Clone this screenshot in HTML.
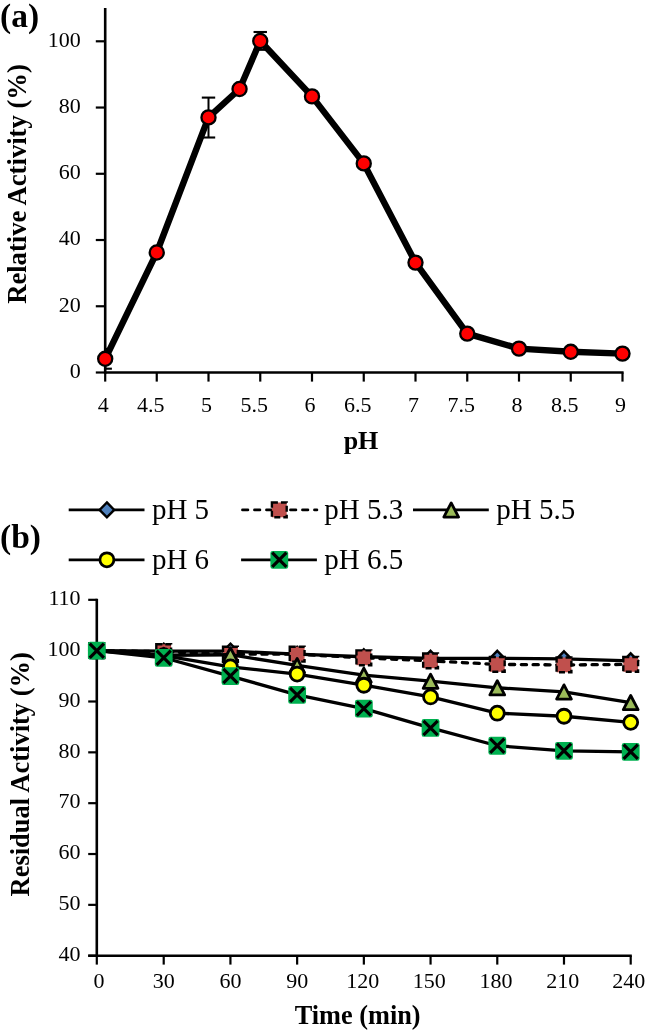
<!DOCTYPE html>
<html><head><meta charset="utf-8"><style>
html,body{margin:0;padding:0;background:#fff;}
body{width:646px;height:1033px;overflow:hidden;}
svg{display:block;}
</style></head><body>
<svg width="646" height="1033" viewBox="0 0 646 1033">
<rect width="646" height="1033" fill="#fff"/>
<line x1="105.2" y1="8.0" x2="105.2" y2="373.7" stroke="#000" stroke-width="2.6"/>
<line x1="95.8" y1="372.50" x2="105.2" y2="372.50" stroke="#000" stroke-width="2.2"/>
<line x1="95.8" y1="306.26" x2="105.2" y2="306.26" stroke="#000" stroke-width="2.2"/>
<line x1="95.8" y1="240.02" x2="105.2" y2="240.02" stroke="#000" stroke-width="2.2"/>
<line x1="95.8" y1="173.78" x2="105.2" y2="173.78" stroke="#000" stroke-width="2.2"/>
<line x1="95.8" y1="107.54" x2="105.2" y2="107.54" stroke="#000" stroke-width="2.2"/>
<line x1="95.8" y1="41.30" x2="105.2" y2="41.30" stroke="#000" stroke-width="2.2"/>
<line x1="104.0" y1="372.5" x2="623.6" y2="372.5" stroke="#000" stroke-width="2.6"/>
<line x1="105.20" y1="372.5" x2="105.20" y2="381.6" stroke="#000" stroke-width="2.2"/>
<line x1="156.75" y1="372.5" x2="156.75" y2="381.6" stroke="#000" stroke-width="2.2"/>
<line x1="208.50" y1="372.5" x2="208.50" y2="381.6" stroke="#000" stroke-width="2.2"/>
<line x1="260.25" y1="372.5" x2="260.25" y2="381.6" stroke="#000" stroke-width="2.2"/>
<line x1="312.00" y1="372.5" x2="312.00" y2="381.6" stroke="#000" stroke-width="2.2"/>
<line x1="363.75" y1="372.5" x2="363.75" y2="381.6" stroke="#000" stroke-width="2.2"/>
<line x1="415.50" y1="372.5" x2="415.50" y2="381.6" stroke="#000" stroke-width="2.2"/>
<line x1="467.25" y1="372.5" x2="467.25" y2="381.6" stroke="#000" stroke-width="2.2"/>
<line x1="519.00" y1="372.5" x2="519.00" y2="381.6" stroke="#000" stroke-width="2.2"/>
<line x1="570.75" y1="372.5" x2="570.75" y2="381.6" stroke="#000" stroke-width="2.2"/>
<line x1="622.50" y1="372.5" x2="622.50" y2="381.6" stroke="#000" stroke-width="2.2"/>
<polyline fill="none" stroke="#000" stroke-width="6.4" stroke-linejoin="round" points="105.20,358.80 156.75,252.50 208.50,117.40 239.55,89.00 260.25,41.00 312.00,96.40 363.75,163.40 415.50,262.60 467.25,333.60 519.00,348.60 570.75,351.80 622.50,353.60"/>
<line x1="105.20" y1="348.9" x2="105.20" y2="368.7" stroke="#000" stroke-width="2"/>
<line x1="105.20" y1="368.7" x2="111.90" y2="368.7" stroke="#000" stroke-width="2.1"/>
<line x1="105.20" y1="348.9" x2="111.90" y2="348.9" stroke="#000" stroke-width="2.1"/>
<line x1="208.50" y1="97.6" x2="208.50" y2="137.5" stroke="#000" stroke-width="2"/>
<line x1="201.80" y1="137.5" x2="215.20" y2="137.5" stroke="#000" stroke-width="2.1"/>
<line x1="201.80" y1="97.6" x2="215.20" y2="97.6" stroke="#000" stroke-width="2.1"/>
<line x1="260.25" y1="32.0" x2="260.25" y2="49.8" stroke="#000" stroke-width="2"/>
<line x1="253.55" y1="49.8" x2="266.95" y2="49.8" stroke="#000" stroke-width="2.1"/>
<line x1="253.55" y1="32.0" x2="266.95" y2="32.0" stroke="#000" stroke-width="2.1"/>
<circle cx="105.20" cy="358.80" r="7.05" fill="#FF0000" stroke="#000" stroke-width="2.3"/>
<circle cx="156.75" cy="252.50" r="7.05" fill="#FF0000" stroke="#000" stroke-width="2.3"/>
<circle cx="208.50" cy="117.40" r="7.05" fill="#FF0000" stroke="#000" stroke-width="2.3"/>
<circle cx="239.55" cy="89.00" r="7.05" fill="#FF0000" stroke="#000" stroke-width="2.3"/>
<circle cx="260.25" cy="41.00" r="7.05" fill="#FF0000" stroke="#000" stroke-width="2.3"/>
<circle cx="312.00" cy="96.40" r="7.05" fill="#FF0000" stroke="#000" stroke-width="2.3"/>
<circle cx="363.75" cy="163.40" r="7.05" fill="#FF0000" stroke="#000" stroke-width="2.3"/>
<circle cx="415.50" cy="262.60" r="7.05" fill="#FF0000" stroke="#000" stroke-width="2.3"/>
<circle cx="467.25" cy="333.60" r="7.05" fill="#FF0000" stroke="#000" stroke-width="2.3"/>
<circle cx="519.00" cy="348.60" r="7.05" fill="#FF0000" stroke="#000" stroke-width="2.3"/>
<circle cx="570.75" cy="351.80" r="7.05" fill="#FF0000" stroke="#000" stroke-width="2.3"/>
<circle cx="622.50" cy="353.60" r="7.05" fill="#FF0000" stroke="#000" stroke-width="2.3"/>
<line x1="96.8" y1="598.72" x2="96.8" y2="955.7" stroke="#000" stroke-width="2.6"/>
<line x1="88.2" y1="955.70" x2="96.8" y2="955.70" stroke="#000" stroke-width="2.2"/>
<line x1="88.2" y1="904.86" x2="96.8" y2="904.86" stroke="#000" stroke-width="2.2"/>
<line x1="88.2" y1="854.02" x2="96.8" y2="854.02" stroke="#000" stroke-width="2.2"/>
<line x1="88.2" y1="803.18" x2="96.8" y2="803.18" stroke="#000" stroke-width="2.2"/>
<line x1="88.2" y1="752.34" x2="96.8" y2="752.34" stroke="#000" stroke-width="2.2"/>
<line x1="88.2" y1="701.50" x2="96.8" y2="701.50" stroke="#000" stroke-width="2.2"/>
<line x1="88.2" y1="650.66" x2="96.8" y2="650.66" stroke="#000" stroke-width="2.2"/>
<line x1="88.2" y1="599.82" x2="96.8" y2="599.82" stroke="#000" stroke-width="2.2"/>
<line x1="88.2" y1="955.7" x2="631.80" y2="955.7" stroke="#000" stroke-width="2.6"/>
<line x1="96.80" y1="955.7" x2="96.80" y2="964.6" stroke="#000" stroke-width="2.2"/>
<line x1="163.71" y1="955.7" x2="163.71" y2="964.6" stroke="#000" stroke-width="2.2"/>
<line x1="230.43" y1="955.7" x2="230.43" y2="964.6" stroke="#000" stroke-width="2.2"/>
<line x1="297.14" y1="955.7" x2="297.14" y2="964.6" stroke="#000" stroke-width="2.2"/>
<line x1="363.85" y1="955.7" x2="363.85" y2="964.6" stroke="#000" stroke-width="2.2"/>
<line x1="430.56" y1="955.7" x2="430.56" y2="964.6" stroke="#000" stroke-width="2.2"/>
<line x1="497.28" y1="955.7" x2="497.28" y2="964.6" stroke="#000" stroke-width="2.2"/>
<line x1="563.99" y1="955.7" x2="563.99" y2="964.6" stroke="#000" stroke-width="2.2"/>
<line x1="630.70" y1="955.7" x2="630.70" y2="964.6" stroke="#000" stroke-width="2.2"/>
<polyline fill="none" stroke="#000" stroke-width="3.3" stroke-linejoin="round" points="96.80,650.66 163.71,651.17 230.43,651.17 297.14,654.22 363.85,656.76 430.56,658.29 497.28,658.29 563.99,658.79 630.70,660.83"/>
<path d="M96.80,643.16 L104.10,650.66 L96.80,658.16 L89.50,650.66 Z" fill="#4F81BD" stroke="#000" stroke-width="2.4" stroke-linejoin="miter"/>
<path d="M163.71,643.67 L171.01,651.17 L163.71,658.67 L156.41,651.17 Z" fill="#4F81BD" stroke="#000" stroke-width="2.4" stroke-linejoin="miter"/>
<path d="M230.43,643.67 L237.73,651.17 L230.43,658.67 L223.12,651.17 Z" fill="#4F81BD" stroke="#000" stroke-width="2.4" stroke-linejoin="miter"/>
<path d="M297.14,646.72 L304.44,654.22 L297.14,661.72 L289.84,654.22 Z" fill="#4F81BD" stroke="#000" stroke-width="2.4" stroke-linejoin="miter"/>
<path d="M363.85,649.26 L371.15,656.76 L363.85,664.26 L356.55,656.76 Z" fill="#4F81BD" stroke="#000" stroke-width="2.4" stroke-linejoin="miter"/>
<path d="M430.56,650.79 L437.86,658.29 L430.56,665.79 L423.26,658.29 Z" fill="#4F81BD" stroke="#000" stroke-width="2.4" stroke-linejoin="miter"/>
<path d="M497.28,650.79 L504.58,658.29 L497.28,665.79 L489.98,658.29 Z" fill="#4F81BD" stroke="#000" stroke-width="2.4" stroke-linejoin="miter"/>
<path d="M563.99,651.29 L571.29,658.79 L563.99,666.29 L556.69,658.79 Z" fill="#4F81BD" stroke="#000" stroke-width="2.4" stroke-linejoin="miter"/>
<path d="M630.70,653.33 L638.00,660.83 L630.70,668.33 L623.40,660.83 Z" fill="#4F81BD" stroke="#000" stroke-width="2.4" stroke-linejoin="miter"/>
<polyline fill="none" stroke="#000" stroke-width="3.3" stroke-linejoin="round" stroke-dasharray="5.2 6.6" stroke-linecap="round" points="96.80,650.66 163.71,651.68 230.43,654.22 297.14,654.22 363.85,657.78 430.56,660.83 497.28,664.39 563.99,664.90 630.70,664.39"/>
<rect x="89.40" y="643.26" width="14.8" height="14.8" fill="#C0504D" stroke="#000" stroke-width="2.4" stroke-dasharray="6 3"/>
<rect x="156.31" y="644.28" width="14.8" height="14.8" fill="#C0504D" stroke="#000" stroke-width="2.4" stroke-dasharray="6 3"/>
<rect x="223.03" y="646.82" width="14.8" height="14.8" fill="#C0504D" stroke="#000" stroke-width="2.4" stroke-dasharray="6 3"/>
<rect x="289.74" y="646.82" width="14.8" height="14.8" fill="#C0504D" stroke="#000" stroke-width="2.4" stroke-dasharray="6 3"/>
<rect x="356.45" y="650.38" width="14.8" height="14.8" fill="#C0504D" stroke="#000" stroke-width="2.4" stroke-dasharray="6 3"/>
<rect x="423.16" y="653.43" width="14.8" height="14.8" fill="#C0504D" stroke="#000" stroke-width="2.4" stroke-dasharray="6 3"/>
<rect x="489.88" y="656.99" width="14.8" height="14.8" fill="#C0504D" stroke="#000" stroke-width="2.4" stroke-dasharray="6 3"/>
<rect x="556.59" y="657.50" width="14.8" height="14.8" fill="#C0504D" stroke="#000" stroke-width="2.4" stroke-dasharray="6 3"/>
<rect x="623.30" y="656.99" width="14.8" height="14.8" fill="#C0504D" stroke="#000" stroke-width="2.4" stroke-dasharray="6 3"/>
<polyline fill="none" stroke="#000" stroke-width="3.3" stroke-linejoin="round" points="96.80,650.66 163.71,655.24 230.43,654.73 297.14,665.40 363.85,675.06 430.56,681.16 497.28,687.77 563.99,691.84 630.70,702.52"/>
<path d="M96.80,643.66 L104.20,657.86 L89.40,657.86 Z" fill="#9BBB59" stroke="#000" stroke-width="2.8" stroke-linejoin="round"/>
<path d="M163.71,648.24 L171.11,662.44 L156.31,662.44 Z" fill="#9BBB59" stroke="#000" stroke-width="2.8" stroke-linejoin="round"/>
<path d="M230.43,647.73 L237.83,661.93 L223.03,661.93 Z" fill="#9BBB59" stroke="#000" stroke-width="2.8" stroke-linejoin="round"/>
<path d="M297.14,658.40 L304.54,672.60 L289.74,672.60 Z" fill="#9BBB59" stroke="#000" stroke-width="2.8" stroke-linejoin="round"/>
<path d="M363.85,668.06 L371.25,682.26 L356.45,682.26 Z" fill="#9BBB59" stroke="#000" stroke-width="2.8" stroke-linejoin="round"/>
<path d="M430.56,674.16 L437.96,688.36 L423.16,688.36 Z" fill="#9BBB59" stroke="#000" stroke-width="2.8" stroke-linejoin="round"/>
<path d="M497.28,680.77 L504.68,694.97 L489.88,694.97 Z" fill="#9BBB59" stroke="#000" stroke-width="2.8" stroke-linejoin="round"/>
<path d="M563.99,684.84 L571.39,699.04 L556.59,699.04 Z" fill="#9BBB59" stroke="#000" stroke-width="2.8" stroke-linejoin="round"/>
<path d="M630.70,695.52 L638.10,709.72 L623.30,709.72 Z" fill="#9BBB59" stroke="#000" stroke-width="2.8" stroke-linejoin="round"/>
<polyline fill="none" stroke="#000" stroke-width="3.3" stroke-linejoin="round" points="96.80,650.66 163.71,655.74 230.43,666.93 297.14,674.05 363.85,685.23 430.56,696.92 497.28,713.19 563.99,716.24 630.70,722.34"/>
<circle cx="96.80" cy="650.66" r="7.0" fill="#FFFF00" stroke="#000" stroke-width="2.8"/>
<circle cx="163.71" cy="655.74" r="7.0" fill="#FFFF00" stroke="#000" stroke-width="2.8"/>
<circle cx="230.43" cy="666.93" r="7.0" fill="#FFFF00" stroke="#000" stroke-width="2.8"/>
<circle cx="297.14" cy="674.05" r="7.0" fill="#FFFF00" stroke="#000" stroke-width="2.8"/>
<circle cx="363.85" cy="685.23" r="7.0" fill="#FFFF00" stroke="#000" stroke-width="2.8"/>
<circle cx="430.56" cy="696.92" r="7.0" fill="#FFFF00" stroke="#000" stroke-width="2.8"/>
<circle cx="497.28" cy="713.19" r="7.0" fill="#FFFF00" stroke="#000" stroke-width="2.8"/>
<circle cx="563.99" cy="716.24" r="7.0" fill="#FFFF00" stroke="#000" stroke-width="2.8"/>
<circle cx="630.70" cy="722.34" r="7.0" fill="#FFFF00" stroke="#000" stroke-width="2.8"/>
<polyline fill="none" stroke="#000" stroke-width="3.3" stroke-linejoin="round" points="96.80,650.66 163.71,657.78 230.43,676.08 297.14,694.89 363.85,708.62 430.56,727.94 497.28,745.73 563.99,750.81 630.70,751.83"/>
<rect x="87.90" y="641.76" width="17.8" height="17.8" rx="2.2" fill="#00B050"/><path d="M89.70,643.56 L103.90,657.76 M103.90,643.56 L89.70,657.76" stroke="#000" stroke-width="3.2"/>
<rect x="154.81" y="648.88" width="17.8" height="17.8" rx="2.2" fill="#00B050"/><path d="M156.61,650.68 L170.81,664.88 M170.81,650.68 L156.61,664.88" stroke="#000" stroke-width="3.2"/>
<rect x="221.53" y="667.18" width="17.8" height="17.8" rx="2.2" fill="#00B050"/><path d="M223.33,668.98 L237.53,683.18 M237.53,668.98 L223.33,683.18" stroke="#000" stroke-width="3.2"/>
<rect x="288.24" y="685.99" width="17.8" height="17.8" rx="2.2" fill="#00B050"/><path d="M290.04,687.79 L304.24,701.99 M304.24,687.79 L290.04,701.99" stroke="#000" stroke-width="3.2"/>
<rect x="354.95" y="699.72" width="17.8" height="17.8" rx="2.2" fill="#00B050"/><path d="M356.75,701.52 L370.95,715.72 M370.95,701.52 L356.75,715.72" stroke="#000" stroke-width="3.2"/>
<rect x="421.66" y="719.04" width="17.8" height="17.8" rx="2.2" fill="#00B050"/><path d="M423.46,720.84 L437.66,735.04 M437.66,720.84 L423.46,735.04" stroke="#000" stroke-width="3.2"/>
<rect x="488.38" y="736.83" width="17.8" height="17.8" rx="2.2" fill="#00B050"/><path d="M490.18,738.63 L504.38,752.83 M504.38,738.63 L490.18,752.83" stroke="#000" stroke-width="3.2"/>
<rect x="555.09" y="741.91" width="17.8" height="17.8" rx="2.2" fill="#00B050"/><path d="M556.89,743.71 L571.09,757.91 M571.09,743.71 L556.89,757.91" stroke="#000" stroke-width="3.2"/>
<rect x="621.80" y="742.93" width="17.8" height="17.8" rx="2.2" fill="#00B050"/><path d="M623.60,744.73 L637.80,758.93 M637.80,744.73 L623.60,758.93" stroke="#000" stroke-width="3.2"/>
<line x1="68.7" y1="509.9" x2="144.50" y2="509.9" stroke="#000" stroke-width="2.8"/>
<path d="M106.90,502.40 L114.20,509.90 L106.90,517.40 L99.60,509.90 Z" fill="#4F81BD" stroke="#000" stroke-width="2.4" stroke-linejoin="miter"/>
<line x1="242.5" y1="509.9" x2="316.90" y2="509.9" stroke="#000" stroke-width="2.8" stroke-dasharray="5.4 6.6" stroke-linecap="round"/>
<rect x="271.90" y="502.50" width="14.8" height="14.8" fill="#C0504D" stroke="#000" stroke-width="2.4" stroke-dasharray="6 3"/>
<line x1="413.0" y1="509.9" x2="488.80" y2="509.9" stroke="#000" stroke-width="2.8"/>
<path d="M451.20,502.90 L458.60,517.10 L443.80,517.10 Z" fill="#9BBB59" stroke="#000" stroke-width="2.8" stroke-linejoin="round"/>
<line x1="68.7" y1="559.8" x2="144.50" y2="559.8" stroke="#000" stroke-width="2.8"/>
<circle cx="106.90" cy="559.80" r="7.0" fill="#FFFF00" stroke="#000" stroke-width="2.8"/>
<line x1="241.1" y1="559.8" x2="316.90" y2="559.8" stroke="#000" stroke-width="2.8"/>
<rect x="270.40" y="550.90" width="17.8" height="17.8" rx="2.2" fill="#00B050"/><path d="M272.20,552.70 L286.40,566.90 M286.40,552.70 L272.20,566.90" stroke="#000" stroke-width="3.2"/>
<g style="filter:grayscale(1)">
<text x="0" y="26.8" style="font-family:'Liberation Serif',serif;font-weight:bold;font-size:33.5px">(a)</text>
<text x="80.8" y="377.90" text-anchor="end" style="font-family:'Liberation Serif',serif;font-size:22px">0</text>
<text x="80.8" y="311.66" text-anchor="end" style="font-family:'Liberation Serif',serif;font-size:22px">20</text>
<text x="80.8" y="245.42" text-anchor="end" style="font-family:'Liberation Serif',serif;font-size:22px">40</text>
<text x="80.8" y="179.18" text-anchor="end" style="font-family:'Liberation Serif',serif;font-size:22px">60</text>
<text x="80.8" y="112.94" text-anchor="end" style="font-family:'Liberation Serif',serif;font-size:22px">80</text>
<text x="80.8" y="46.70" text-anchor="end" style="font-family:'Liberation Serif',serif;font-size:22px">100</text>
<text x="103.20" y="411.6" text-anchor="middle" style="font-family:'Liberation Serif',serif;font-size:22px">4</text>
<text x="150.75" y="411.6" text-anchor="middle" style="font-family:'Liberation Serif',serif;font-size:22px">4.5</text>
<text x="206.50" y="411.6" text-anchor="middle" style="font-family:'Liberation Serif',serif;font-size:22px">5</text>
<text x="254.25" y="411.6" text-anchor="middle" style="font-family:'Liberation Serif',serif;font-size:22px">5.5</text>
<text x="310.00" y="411.6" text-anchor="middle" style="font-family:'Liberation Serif',serif;font-size:22px">6</text>
<text x="357.75" y="411.6" text-anchor="middle" style="font-family:'Liberation Serif',serif;font-size:22px">6.5</text>
<text x="413.50" y="411.6" text-anchor="middle" style="font-family:'Liberation Serif',serif;font-size:22px">7</text>
<text x="461.25" y="411.6" text-anchor="middle" style="font-family:'Liberation Serif',serif;font-size:22px">7.5</text>
<text x="517.00" y="411.6" text-anchor="middle" style="font-family:'Liberation Serif',serif;font-size:22px">8</text>
<text x="564.75" y="411.6" text-anchor="middle" style="font-family:'Liberation Serif',serif;font-size:22px">8.5</text>
<text x="620.50" y="411.6" text-anchor="middle" style="font-family:'Liberation Serif',serif;font-size:22px">9</text>
<text x="361" y="448.5" text-anchor="middle" style="font-family:'Liberation Serif',serif;font-weight:bold;font-size:26px">pH</text>
<text transform="translate(25.5,184) rotate(-90)" x="0" y="0" text-anchor="middle" style="font-family:'Liberation Serif',serif;font-weight:bold;font-size:26.65px">Relative Activity (%)</text>
<text x="0" y="547.6" style="font-family:'Liberation Serif',serif;font-weight:bold;font-size:33.5px">(b)</text>
<text x="80.6" y="961.00" text-anchor="end" style="font-family:'Liberation Serif',serif;font-size:22px">40</text>
<text x="80.6" y="910.16" text-anchor="end" style="font-family:'Liberation Serif',serif;font-size:22px">50</text>
<text x="80.6" y="859.32" text-anchor="end" style="font-family:'Liberation Serif',serif;font-size:22px">60</text>
<text x="80.6" y="808.48" text-anchor="end" style="font-family:'Liberation Serif',serif;font-size:22px">70</text>
<text x="80.6" y="757.64" text-anchor="end" style="font-family:'Liberation Serif',serif;font-size:22px">80</text>
<text x="80.6" y="706.80" text-anchor="end" style="font-family:'Liberation Serif',serif;font-size:22px">90</text>
<text x="80.6" y="655.96" text-anchor="end" style="font-family:'Liberation Serif',serif;font-size:22px">100</text>
<text x="80.6" y="605.12" text-anchor="end" style="font-family:'Liberation Serif',serif;font-size:22px">110</text>
<text x="99.00" y="987.6" text-anchor="middle" style="font-family:'Liberation Serif',serif;font-size:22px">0</text>
<text x="163.71" y="987.6" text-anchor="middle" style="font-family:'Liberation Serif',serif;font-size:22px">30</text>
<text x="230.43" y="987.6" text-anchor="middle" style="font-family:'Liberation Serif',serif;font-size:22px">60</text>
<text x="297.14" y="987.6" text-anchor="middle" style="font-family:'Liberation Serif',serif;font-size:22px">90</text>
<text x="362.65" y="987.6" text-anchor="middle" style="font-family:'Liberation Serif',serif;font-size:22px">120</text>
<text x="429.36" y="987.6" text-anchor="middle" style="font-family:'Liberation Serif',serif;font-size:22px">150</text>
<text x="496.08" y="987.6" text-anchor="middle" style="font-family:'Liberation Serif',serif;font-size:22px">180</text>
<text x="562.79" y="987.6" text-anchor="middle" style="font-family:'Liberation Serif',serif;font-size:22px">210</text>
<text x="628.80" y="987.6" text-anchor="middle" style="font-family:'Liberation Serif',serif;font-size:22px">240</text>
<text x="357.7" y="1024.2" text-anchor="middle" style="font-family:'Liberation Serif',serif;font-weight:bold;font-size:26.3px">Time (min)</text>
<text transform="translate(29.4,774.3) rotate(-90)" x="0" y="0" text-anchor="middle" style="font-family:'Liberation Serif',serif;font-weight:bold;font-size:26.5px">Residual Activity (%)</text>
<text x="151.90" y="519.20" style="font-family:'Liberation Serif',serif;font-size:29px">pH 5</text>
<text x="324.30" y="519.20" style="font-family:'Liberation Serif',serif;font-size:29px">pH 5.3</text>
<text x="496.20" y="519.20" style="font-family:'Liberation Serif',serif;font-size:29px">pH 5.5</text>
<text x="151.90" y="569.10" style="font-family:'Liberation Serif',serif;font-size:29px">pH 6</text>
<text x="324.30" y="569.10" style="font-family:'Liberation Serif',serif;font-size:29px">pH 6.5</text>
</g>
</svg>
</body></html>
